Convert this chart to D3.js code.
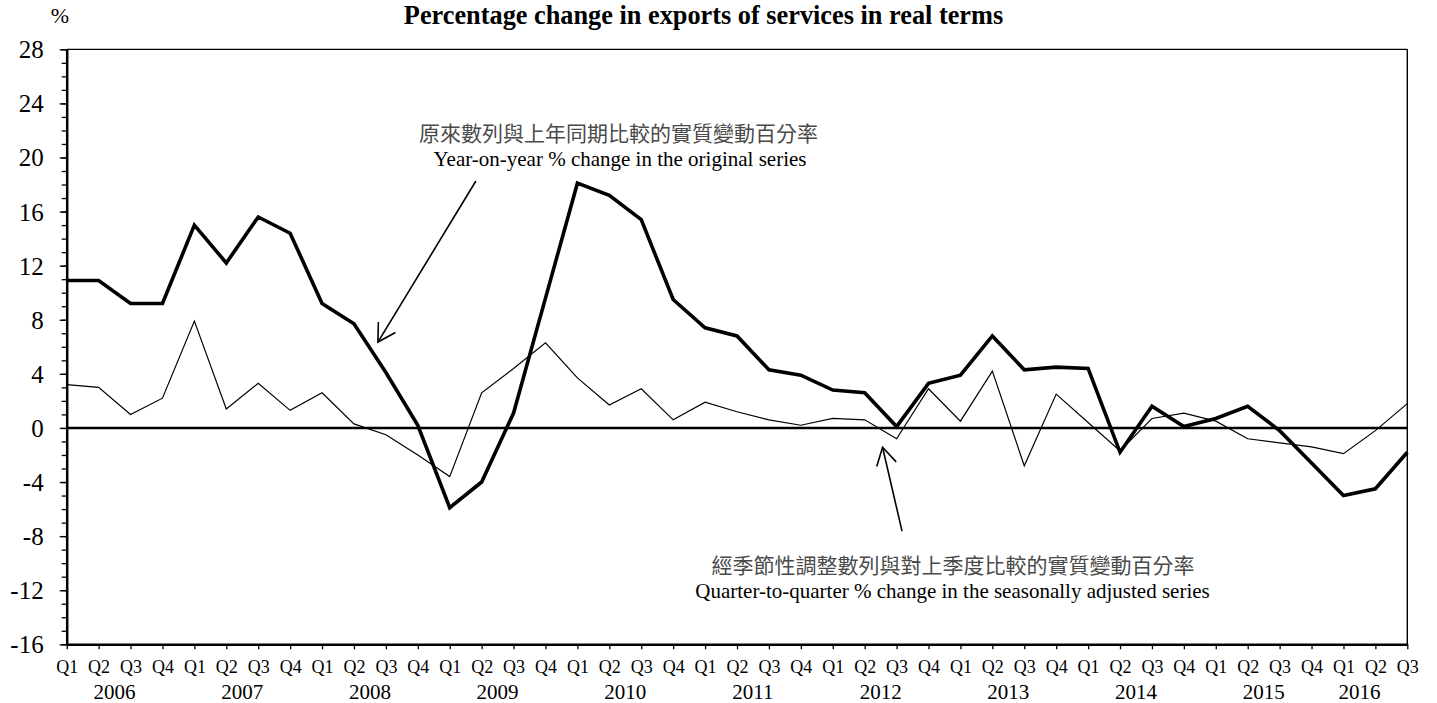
<!DOCTYPE html>
<html>
<head>
<meta charset="utf-8">
<script src="https://cdn.jsdelivr.net/npm/d3@7"></script>
<style>
  html, body { margin: 0; padding: 0; background: #fff; }
  svg { display: block; }
  text { font-family: "Liberation Serif", "Times New Roman", serif; fill: #000; }
  .cjk { font-family: "Noto Sans CJK TC", "Noto Sans CJK SC", sans-serif; fill: #4a4a4a; }
</style>
</head>
<body>
<svg id="chart" width="1437" height="703"></svg>
<script>
// ---- data ----
const years = [2006, 2007, 2008, 2009, 2010, 2011, 2012, 2013, 2014, 2015, 2016];
const quarterNames = ["Q1", "Q2", "Q3", "Q4"];
// 2006 Q1 ... 2016 Q3 (43 quarters)
const yoyChange = [10.9, 10.9, 9.2, 9.2, 15.0, 12.2, 15.6, 14.4, 9.2, 7.7, 4.1, 0.2,
                   -5.9, -4.0, 1.1, 9.6, 18.1, 17.2, 15.4, 9.5, 7.4, 6.8, 4.3, 3.9,
                   2.8, 2.6, 0.1, 3.3, 3.9, 6.8, 4.3, 4.5, 4.4, -1.8, 1.6, 0.1,
                   0.7, 1.6, -0.2, -2.6, -5.0, -4.5, -1.8];
const qoqChange = [3.2, 3.0, 1.0, 2.2, 7.9, 1.4, 3.3, 1.3, 2.6, 0.3, -0.5, -2.0,
                   -3.6, 2.6, 4.4, 6.3, 3.7, 1.7, 2.9, 0.6, 1.9, 1.2, 0.6, 0.2,
                   0.7, 0.6, -0.8, 2.9, 0.5, 4.2, -2.8, 2.5, 0.4, -1.7, 0.7, 1.1,
                   0.5, -0.8, -1.1, -1.4, -1.9, -0.2, 1.8];
const yTicks = [-16, -12, -8, -4, 0, 4, 8, 12, 16, 20, 24, 28];
const title = "Percentage change in exports of services in real terms";
const unitLabel = "%";
const yoyLabelZh = "原來數列與上年同期比較的實質變動百分率";
const yoyLabelEn = "Year-on-year % change in the original series";
const qoqLabelZh = "經季節性調整數列與對上季度比較的實質變動百分率";
const qoqLabelEn = "Quarter-to-quarter % change in the seasonally adjusted series";

// ---- build quarter keys ----
const quarters = [];
years.forEach(yr => quarterNames.forEach((q, i) => {
  if (quarters.length < yoyChange.length) quarters.push({ key: yr + q, year: yr, q: q });
}));

const svg = d3.select("#chart");
const plotL = 66.7, plotR = 1407.3, plotT = 49.3, plotB = 644.3;

const x = d3.scalePoint().domain(quarters.map(d => d.key)).range([plotL, plotR]);
const y = d3.scaleLinear().domain([-16, 28]).range([plotB, plotT]);
const step = x.step();
const xi = i => plotL + i * step; // fractional index position for annotations

// frame (top/right thin)
svg.append("line").attr("x1", plotL).attr("x2", plotR).attr("y1", plotT).attr("y2", plotT)
  .attr("stroke", "#000").attr("stroke-width", 1.2);
svg.append("line").attr("x1", plotR).attr("x2", plotR).attr("y1", plotT).attr("y2", plotB)
  .attr("stroke", "#000").attr("stroke-width", 1.4);

// y minor ticks
const yMinor = svg.append("g").attr("transform", `translate(${plotL},0)`)
  .call(d3.axisLeft(y).tickValues(d3.range(-16, 29, 1)).tickSize(5).tickFormat(""));
yMinor.select(".domain").remove();
yMinor.selectAll("line").attr("stroke-width", 1.3);

// y major axis
const yAxis = svg.append("g").attr("transform", `translate(${plotL},0)`)
  .call(d3.axisLeft(y).tickValues(yTicks).tickSize(7).tickPadding(16).tickSizeOuter(0)
    .tickFormat(d => String(d)));
yAxis.select(".domain").attr("stroke-width", 2.5);
yAxis.selectAll("line").attr("stroke-width", 1.3);
yAxis.selectAll("text").attr("font-size", 25).attr("font-family", "Liberation Serif").attr("dy", "0.34em");

// x axis
const xAxis = svg.append("g").attr("transform", `translate(0,${plotB})`)
  .call(d3.axisBottom(x).tickSize(5).tickPadding(11).tickSizeOuter(0)
    .tickFormat(k => quarters.find(d => d.key === k).q));
xAxis.select(".domain").attr("stroke-width", 2.5);
xAxis.selectAll("line").attr("stroke-width", 1.3);
xAxis.selectAll("text").attr("font-size", 18).attr("font-family", "Liberation Serif");

// year labels
years.forEach(yr => {
  const qs = quarters.filter(d => d.year === yr);
  const first = x(qs[0].key);
  const off = qs.length === 4 ? 1.5 : 0.5;
  svg.append("text").attr("x", first + off * step).attr("y", 699)
    .attr("text-anchor", "middle").attr("font-size", 21).text(yr);
});

// zero line
svg.append("line").attr("x1", plotL).attr("x2", plotR).attr("y1", y(0)).attr("y2", y(0))
  .attr("stroke", "#000").attr("stroke-width", 2.4);

// series lines
const line = d3.line().x((d, i) => x(quarters[i].key)).y(d => y(d));
svg.append("path").datum(qoqChange).attr("d", line)
  .attr("fill", "none").attr("stroke", "#000").attr("stroke-width", 1.2).attr("stroke-linejoin", "miter");
svg.append("path").datum(yoyChange).attr("d", line)
  .attr("fill", "none").attr("stroke", "#000").attr("stroke-width", 3.6).attr("stroke-linejoin", "miter");

// title & unit
svg.append("text").attr("x", 703.5).attr("y", 23.5).attr("text-anchor", "middle")
  .attr("font-weight", "bold").attr("font-size", 26.3).text(title);
svg.append("text").attr("x", 60).attr("y", 23).attr("text-anchor", "middle")
  .attr("font-size", 22).text(unitLabel);

// annotations
function arrow(fromIdx, fromVal, toIdx, toVal) {
  const x1 = xi(fromIdx), y1 = y(fromVal), x2 = xi(toIdx), y2 = y(toVal);
  const g = svg.append("g").attr("stroke", "#000").attr("stroke-width", 1.6).attr("fill", "none");
  g.append("line").attr("x1", x1).attr("y1", y1).attr("x2", x2).attr("y2", y2);
  const ang = Math.atan2(y1 - y2, x1 - x2);
  const L = 20, spread = 30 * Math.PI / 180;
  const p = [ang - spread, ang + spread].map(a => [x2 + L * Math.cos(a), y2 + L * Math.sin(a)]);
  g.append("path").attr("d", `M${p[0][0]},${p[0][1]}L${x2},${y2}L${p[1][0]},${p[1][1]}`);
}
arrow(12.82, 18.26, 9.75, 6.35);
arrow(26.17, -7.63, 25.56, -1.43);

svg.append("text").attr("class", "cjk").attr("x", 618.5).attr("y", 141)
  .attr("text-anchor", "middle").attr("font-size", 21).text(yoyLabelZh);
svg.append("text").attr("x", 620).attr("y", 166)
  .attr("text-anchor", "middle").attr("font-size", 21).text(yoyLabelEn);
svg.append("text").attr("class", "cjk").attr("x", 953).attr("y", 573)
  .attr("text-anchor", "middle").attr("font-size", 21).text(qoqLabelZh);
svg.append("text").attr("x", 952.5).attr("y", 598)
  .attr("text-anchor", "middle").attr("font-size", 21).text(qoqLabelEn);
</script>
</body>
</html>
